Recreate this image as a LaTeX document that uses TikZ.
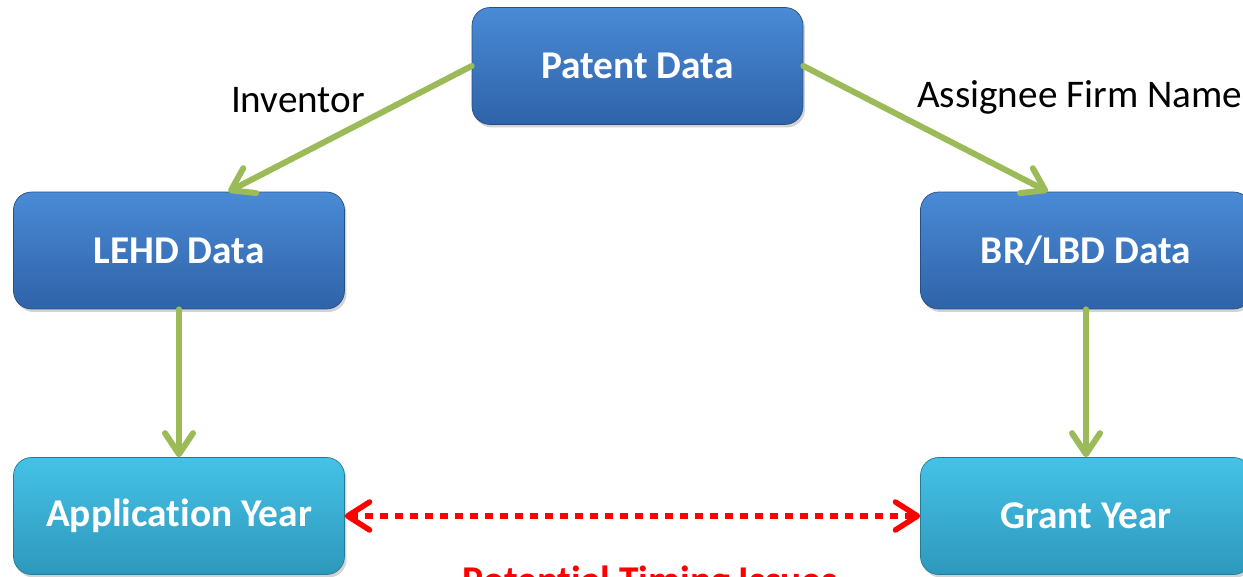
\documentclass[tikz,border=0pt]{standalone}
\usepackage{fontspec}
\setmainfont[Ligatures={NoCommon}]{Carlito}
\usetikzlibrary{arrows.meta, positioning, shadows}

\definecolor{boxblue}{HTML}{4A8AD6}
\definecolor{boxbluedark}{HTML}{2F63A8}
\definecolor{boxteal}{HTML}{44C2E6}
\definecolor{boxtealdark}{HTML}{2E98BC}
\definecolor{linkgreen}{HTML}{9BBB59}

\begin{document}
\begin{tikzpicture}[x=0.02cm, y=0.02cm]

\tikzset{box/.style = {shape=rectangle, rounded corners=0.36cm, minimum width=6.62cm, minimum height=2.34cm, inner sep=0pt, text=white, font=\fontsize{22.4}{27}\selectfont\bfseries, drop shadow={opacity=0.35, shadow xshift=0.04cm, shadow yshift=-0.06cm}}}
\tikzset{datanode/.style = {box, draw=boxbluedark!80!black, top color=boxblue, bottom color=boxbluedark}}
\tikzset{yearnode/.style = {box, draw=boxtealdark!80!black, top color=boxteal, bottom color=boxtealdark}}
\tikzset{link/.style = {draw=linkgreen, line width=0.12cm, line cap=round, line join=round, -{Straight Barb[length=0.42cm, width=0.56cm, line cap=round, line join=round]}}}
\tikzset{timing/.style = {draw=red, line width=0.11cm, dash pattern=on 0.15cm off 0.15cm, {Straight Barb[length=0.44cm, width=0.56cm, line cap=round, line join=round]}-{Straight Barb[length=0.44cm, width=0.56cm, line cap=round, line join=round]}}}
\tikzset{label/.style = {font=\fontsize{22.3}{27}\selectfont}}

\clip (0,0) rectangle (1243,577);

% vertices
\node[datanode] (patent) at (637.5,511) {Patent Data};
\node[datanode] (lehd) at (179,326.5) {LEHD Data};
\node[datanode] (brlbd) at (1086,326.5) {BR/LBD Data};
\node[yearnode] (appyear) at (179,61) {Application Year};
\node[yearnode] (grantyear) at (1086,61) {Grant Year};

% labels
\node[label] (inventor) at (298,477) {Inventor};
\node[label, anchor=west] (assignee) at (911,480) {Assignee Firm Name};
\node[text=red, anchor=base, font=\fontsize{22.4}{27}\selectfont\bfseries] (issues) at (650,-16.5) {Potential Timing Issues};

%edges
\draw[link] (patent.west) -- (lehd.50);
\draw[link] (patent.east) -- (brlbd.123);
\draw[link] (lehd.south) -- (appyear.north);
\draw[link] (brlbd.south) -- (grantyear.north);
\draw[timing] (appyear.east) -- (grantyear.west);
\end{tikzpicture}
\end{document}
